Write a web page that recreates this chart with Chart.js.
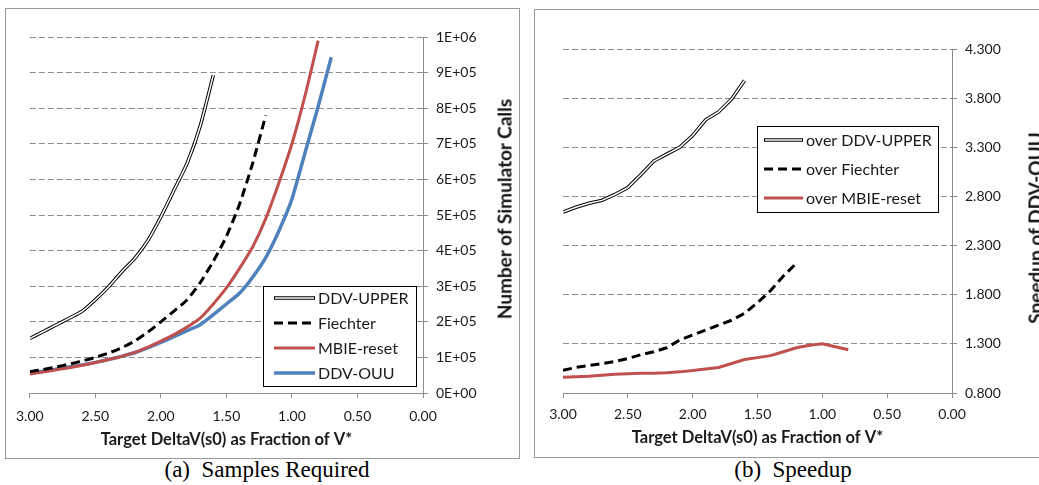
<!DOCTYPE html>
<html>
<head>
<meta charset="utf-8">
<script src="https://cdn.jsdelivr.net/npm/chart.js@4.4.1/dist/chart.umd.min.js"></script>
<style>
  body { margin: 0; width: 1039px; height: 485px; overflow: hidden; background: #fff; position: relative; font-family: Lato, sans-serif; }
  .panel { position: absolute; border: 1px solid #999; box-sizing: border-box; }
  #panelA { left: 5px; top: 8px; width: 515px; height: 451px; }
  #panelB { left: 534px; top: 9px; width: 520px; height: 449px; }
  .wrap { position: absolute; }
  #wrapA { left: 6px; top: 9px; width: 511px; height: 448px; }
  #wrapB { left: 535px; top: 9px; width: 504px; height: 448px; }
  .caption { position: absolute; top: 457px; line-height: 26px; font-family: "Liberation Serif", serif; font-size: 23px; color: #000; white-space: pre; transform: translateX(-50%); }
  .ytitle { position: absolute; font-weight: bold; font-size: 19px; color: #111; white-space: nowrap; transform: translate(-50%, -50%) rotate(-90deg); }
</style>
</head>
<body>
<div class="panel" id="panelA"></div>
<div class="panel" id="panelB"></div>
<div class="wrap" id="wrapA"><canvas id="chartA"></canvas></div>
<div class="wrap" id="wrapB"><canvas id="chartB"></canvas></div>
<div class="ytitle" style="left:504px; top:209px;">Number of Simulator Calls</div>
<div class="ytitle" style="left:1035px; top:228px;">Speedup of DDV-OUU</div>
<div class="caption" style="left:267px;">(a)  Samples Required</div>
<div class="caption" style="left:793px;">(b)  Speedup</div>
<script>
// target deltaV(s0) as fraction of V*, shared by every series
var targetDelta = [3.0, 2.9, 2.8, 2.7, 2.6, 2.5, 2.4, 2.3, 2.2, 2.1, 2.0, 1.9, 1.8, 1.7, 1.6, 1.5, 1.4, 1.3, 1.2, 1.1, 1.0, 0.9, 0.8, 0.7];

// (a) number of simulator calls
var callsUpper = [153000, 172000, 191000, 210000, 230000, 262000, 298000, 340000, 378000, 428000, 495000, 570000, 645000, 750000, 893000];
var callsFiechter = [60000, 66000, 73000, 81000, 90000, 100000, 112000, 127000, 146000, 171000, 200000, 230000, 262000, 310000, 370000, 440000, 530000, 645000, 780000];
var callsMbie = [53500, 59000, 65000, 71000, 78000, 85500, 94000, 103000, 114000, 129000, 146000, 164000, 185000, 210000, 250000, 295000, 350000, 410000, 490000, 590000, 700000, 835000, 990000];
var callsOuu = [55500, 61000, 67000, 73000, 79000, 86000, 94000, 103000, 113000, 127000, 142000, 158000, 175000, 192000, 220000, 250000, 280000, 325000, 380000, 455000, 545000, 675000, 805000, 943000];

// (b) speedup of DDV-OUU
var speedUpper = [2.64, 2.69, 2.73, 2.76, 2.82, 2.89, 3.02, 3.16, 3.23, 3.30, 3.42, 3.58, 3.66, 3.79, 3.98];
var speedFiechter = [1.03, 1.06, 1.08, 1.10, 1.12, 1.15, 1.19, 1.22, 1.26, 1.34, 1.39, 1.44, 1.49, 1.54, 1.61, 1.72, 1.84, 1.99, 2.12];
var speedMbie = [0.96, 0.965, 0.97, 0.98, 0.99, 0.995, 1.0, 1.0, 1.005, 1.015, 1.03, 1.045, 1.06, 1.10, 1.14, 1.16, 1.18, 1.22, 1.26, 1.285, 1.30, 1.27, 1.24];

var namesA = ["DDV-UPPER", "Fiechter", "MBIE-reset", "DDV-OUU"];
var namesB = ["over DDV-UPPER", "over Fiechter", "over MBIE-reset"];

var RED = "#C0504D";
var BLUE = "#4F81BD";
var TEXT = "#1a1a1a";
var GRID = "#8c8c8c";

function toPoints(values) {
    return values.map(function (v, i) { return { x: targetDelta[i], y: v }; });
}

function sci(v) {
    if (v === 0) return "0E+00";
    var e = Math.floor(Math.log10(v) + 1e-9);
    var m = Math.round(v / Math.pow(10, e));
    return m + "E+" + (e < 10 ? "0" + e : e);
}

// legend drawn in a box inside the plot, like the original
var boxLegend = {
    id: "boxLegend",
    afterDraw: function (chart, args, opts) {
        var ctx = chart.ctx;
        var ca = chart.chartArea;
        var x0 = ca.right - opts.right - opts.width;
        var y0 = ca.bottom - opts.bottom - opts.height;
        ctx.save();
        ctx.fillStyle = "#fff";
        ctx.fillRect(x0, y0, opts.width, opts.height);
        ctx.strokeStyle = "#000";
        ctx.lineWidth = 1;
        ctx.strokeRect(x0 + 0.5, y0 + 0.5, opts.width, opts.height);
        ctx.font = "16px Lato";
        ctx.textBaseline = "middle";
        ctx.fillStyle = TEXT;
        var k = 0;
        chart.data.datasets.forEach(function (ds) {
            if (!ds.legendText) return;
            var y = y0 + opts.first + k * opts.step;
            var lx = x0 + opts.lineLeft;
            ctx.beginPath();
            ctx.moveTo(lx, y);
            ctx.lineTo(lx + opts.lineLen, y);
            ctx.setLineDash(ds.borderDash || []);
            ctx.strokeStyle = ds.borderColor;
            ctx.lineWidth = ds.borderWidth;
            ctx.stroke();
            if (ds.double) {
                ctx.beginPath();
                ctx.moveTo(lx + 1, y);
                ctx.lineTo(lx + opts.lineLen - 1, y);
                ctx.strokeStyle = "#fff";
                ctx.lineWidth = 1.5;
                ctx.stroke();
            }
            ctx.setLineDash([]);
            ctx.fillStyle = TEXT;
            ctx.fillText(ds.legendText, lx + opts.lineLen + 3, y + 1);
            k++;
        });
        ctx.restore();
    }
};

function xScale(labelPad, titlePad) {
    return {
        type: "linear",
        reverse: true,
        min: 0,
        max: 3,
        grid: { drawOnChartArea: false, drawTicks: true, tickLength: 5, tickColor: GRID },
        border: { display: true, color: GRID, width: 1 },
        ticks: { stepSize: 0.5, padding: labelPad, color: TEXT, font: { family: "Lato", size: 14 },
            callback: function (v) { return v.toFixed(2); } },
        title: { display: true, text: "Target DeltaV(s0) as Fraction of V*", color: TEXT,
            font: { family: "Lato", size: 16.5, weight: "bold" }, padding: { top: 0, bottom: titlePad } },
        afterFit: function (s) { s.height = 64; }
    };
}

function lineSet(label, values, color, width, dash, extra) {
    var ds = {
        label: label,
        legendText: label,
        data: toPoints(values),
        borderColor: color,
        borderWidth: width,
        borderDash: dash || [],
        pointRadius: 0,
        fill: false
    };
    for (var k in extra) ds[k] = extra[k];
    return ds;
}

function makeSamplesChart() {
    new Chart(document.getElementById("chartA"), {
        type: "line",
        data: {
            // white core first so it is painted over the black outline
            datasets: [
                lineSet(namesA[0], callsUpper, "#fff", 1.5, null, { legendText: null, tension: 0.2 }),
                lineSet(namesA[0], callsUpper, "#000", 3.5, null, { double: true, tension: 0.2 }),
                lineSet(namesA[1], callsFiechter, "#000", 3, [9, 5], { tension: 0.2 }),
                lineSet(namesA[2], callsMbie, RED, 3, null, { tension: 0.2 }),
                lineSet(namesA[3], callsOuu, BLUE, 3.5, null, { tension: 0.2 })
            ]
        },
        options: {
            responsive: true,
            maintainAspectRatio: false,
            animation: false,
            layout: { padding: { left: 23, top: 28, right: 0, bottom: 0 } },
            plugins: {
                legend: { display: false },
                tooltip: { enabled: false },
                boxLegend: { width: 153, height: 100, right: 7, bottom: 7, first: 12, step: 25, lineLeft: 11, lineLen: 41 }
            },
            scales: {
                x: xScale(10, 7),
                y: {
                    type: "linear",
                    position: "right",
                    min: 0,
                    max: 1000000,
                    grid: { color: GRID, lineWidth: 1, tickLength: 5, tickColor: GRID },
                    border: { display: true, color: GRID, width: 1, dash: [6, 3] },
                    ticks: { stepSize: 100000, padding: 8, color: TEXT, font: { family: "Lato", size: 14 },
                        callback: function (v) { return sci(v); } },
                    afterFit: function (s) { s.width = 94; }
                }
            }
        },
        plugins: [boxLegend]
    });
}

function makeSpeedupChart() {
    new Chart(document.getElementById("chartB"), {
        type: "line",
        data: {
            datasets: [
                lineSet(namesB[0], speedUpper, "#fff", 1.5, null, { legendText: null }),
                lineSet(namesB[0], speedUpper, "#000", 3.5, null, { double: true }),
                lineSet(namesB[1], speedFiechter, "#000", 3, [9, 5]),
                lineSet(namesB[2], speedMbie, RED, 3)
            ]
        },
        options: {
            responsive: true,
            maintainAspectRatio: false,
            animation: false,
            layout: { padding: { left: 28, top: 40, right: 0, bottom: 0 } },
            plugins: {
                legend: { display: false },
                tooltip: { enabled: false },
                boxLegend: { width: 181, height: 86, right: 14, bottom: 181, first: 14, step: 29, lineLeft: 7, lineLen: 39 }
            },
            scales: {
                x: xScale(8, 9),
                y: {
                    type: "linear",
                    position: "right",
                    min: 0.8,
                    max: 4.3,
                    grid: { color: GRID, lineWidth: 1, tickLength: 5, tickColor: GRID },
                    border: { display: true, color: GRID, width: 1, dash: [6, 3] },
                    ticks: { stepSize: 0.5, padding: 8, color: TEXT, font: { family: "Lato", size: 14 },
                        callback: function (v) { return v.toFixed(3); } },
                    afterFit: function (s) { s.width = 87; }
                }
            }
        },
        plugins: [boxLegend]
    });
}

makeSamplesChart();
makeSpeedupChart();
</script>
</body>
</html>
